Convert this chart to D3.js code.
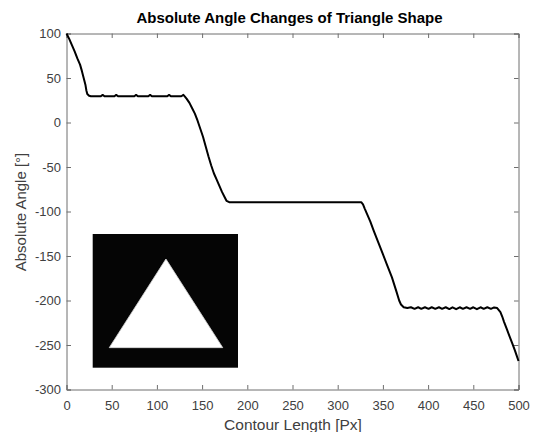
<!DOCTYPE html>
<html><head><meta charset="utf-8">
<script src="https://cdn.jsdelivr.net/npm/d3@7/dist/d3.min.js"></script>
<style>body{margin:0;background:#fff}svg{display:block}</style></head>
<body><svg id="c" width="536" height="432"></svg>
<script>
// ---- data ----
const contourX = [0,3,6,9,12,15,17,19,21,22,23,25,27,
  38,40,42, 53,55,57, 75,77,79, 90.5,92.5,94.5, 111.5,113.5,115.5, 127,129.3,
  131,133,136,139,142,145,148,151,154,157,160,163,166,169,172,175,177,180,
  325,326,328,330,333,336,340,345,350,355,360,365,368,370,373,
  377,381,385,389,392.5,396.5,400.5,404,408,412,415.5,419.5,423.5,427,431,435,438.5,442.5,446.5,450,454,458,461.5,465.5,469.5,473,476.4,
  478,480,482,484,487,490,493,496,498,500];
const angleY = [100,94,87,80,72,65,58,50,42,36,32,30,29.5,
  29.5,31,29.5, 29.5,31,29.5, 29.5,31,29.5, 29.5,31,29.5, 29.5,31,29.5, 29.5,31,
  29,26.5,22,16,10,2,-7,-16,-27,-38,-48,-57,-64,-71,-78,-84,-88,-89.5,
  -89.5,-89.5,-92,-97,-104,-111,-122,-135,-148,-161,-174,-190,-200,-204.5,-207.5,
  -208.5,-207.6,-209.4,-207.6,-209.4,-207.6,-209.4,-207.6,-209.4,-207.6,-209.4,-207.6,-209.6,-207.6,-209.8,-207.6,-209.4,-207.6,-209.4,-207.6,-209.8,-207.6,-209.4,-207.6,-209.4,-207.8,-208.5,
  -210.5,-213,-218,-224,-232,-240,-248,-256,-262,-268];
const xTicks = [0,50,100,150,200,250,300,350,400,450,500];
const yTicks = [-300,-250,-200,-150,-100,-50,0,50,100];
const titleText = "Absolute Angle Changes of Triangle Shape";
const xLabelText = "Contour Length [Px]";
const yLabelText = "Absolute Angle [°]";
// inset image: triangle vertices in normalized image coordinates
const insetTriangle = [[0.504,0.187],[0.895,0.85],[0.114,0.85]];

// ---- layout ----
const L = 66.5, R = 518.5, T = 33.5, B = 389.5;
const font = "'Liberation Sans', Arial, Helvetica, sans-serif";
const axisCol = "#6e6e6e", textCol = "#404040";

const svg = d3.select("#c");
const x = d3.scaleLinear().domain([0,500]).range([L,R]);
const y = d3.scaleLinear().domain([-300,100]).range([B,T]);
const fmt = d => String(d);

// inset image
const ix = d3.scaleLinear().domain([0,1]).range([92.7,238]);
const iy = d3.scaleLinear().domain([0,1]).range([234,367.7]);
svg.append("rect").attr("x",ix(0)).attr("y",iy(0))
  .attr("width",ix(1)-ix(0)).attr("height",iy(1)-iy(0)).attr("fill","#050505");
svg.append("polygon")
  .attr("points", insetTriangle.map(p=>[ix(p[0]),iy(p[1])].join(",")).join(" "))
  .attr("fill","#ffffff").attr("stroke","#d8d8d8").attr("stroke-width",0.8).attr("stroke-linejoin","round");

// axes
const tk = 4.5;
const gB = svg.append("g").attr("transform",`translate(0,${B})`)
  .call(d3.axisBottom(x).tickValues(xTicks).tickSize(-tk).tickFormat(fmt));
gB.selectAll("text").attr("y",20.5).attr("dy",0);
const gT = svg.append("g").attr("transform",`translate(0,${T})`)
  .call(d3.axisTop(x).tickValues(xTicks).tickSize(-tk).tickFormat(""));
const gL = svg.append("g").attr("transform",`translate(${L},0)`)
  .call(d3.axisLeft(y).tickValues(yTicks).tickSize(-tk).tickFormat(fmt));
gL.selectAll("text").attr("x",-5.5).attr("dy","0.34em");
const gR = svg.append("g").attr("transform",`translate(${R},0)`)
  .call(d3.axisRight(y).tickValues(yTicks).tickSize(-tk).tickFormat(""));
[gB,gT,gL,gR].forEach(g=>{
  g.selectAll(".domain").attr("stroke",axisCol).attr("stroke-width",1);
  g.selectAll(".tick line").attr("stroke",axisCol).attr("stroke-width",1);
  g.selectAll("text").attr("fill",textCol).style("font-family",font).style("font-size","13px");
});

// curve
const pts = contourX.map((d,i)=>[d,angleY[i]]);
svg.append("path").datum(pts)
  .attr("d", d3.line().x(d=>x(d[0])).y(d=>y(d[1])))
  .attr("fill","none").attr("stroke","#000").attr("stroke-width",2).attr("stroke-linejoin","round");

// titles
svg.append("text").attr("x",(L+R)/2 - 3).attr("y",23).attr("text-anchor","middle")
  .style("font-family",font).style("font-size","15px").style("font-weight","bold").attr("fill","#000")
  .text(titleText);
svg.append("text").attr("x",293).attr("y",429.5).attr("text-anchor","middle")
  .style("font-family",font).style("font-size","15.5px").attr("fill",textCol).text(xLabelText);
svg.append("text").attr("transform","translate(26,212) rotate(-90)").attr("text-anchor","middle")
  .style("font-family",font).style("font-size","15px").attr("fill",textCol).text(yLabelText);
</script></body></html>
